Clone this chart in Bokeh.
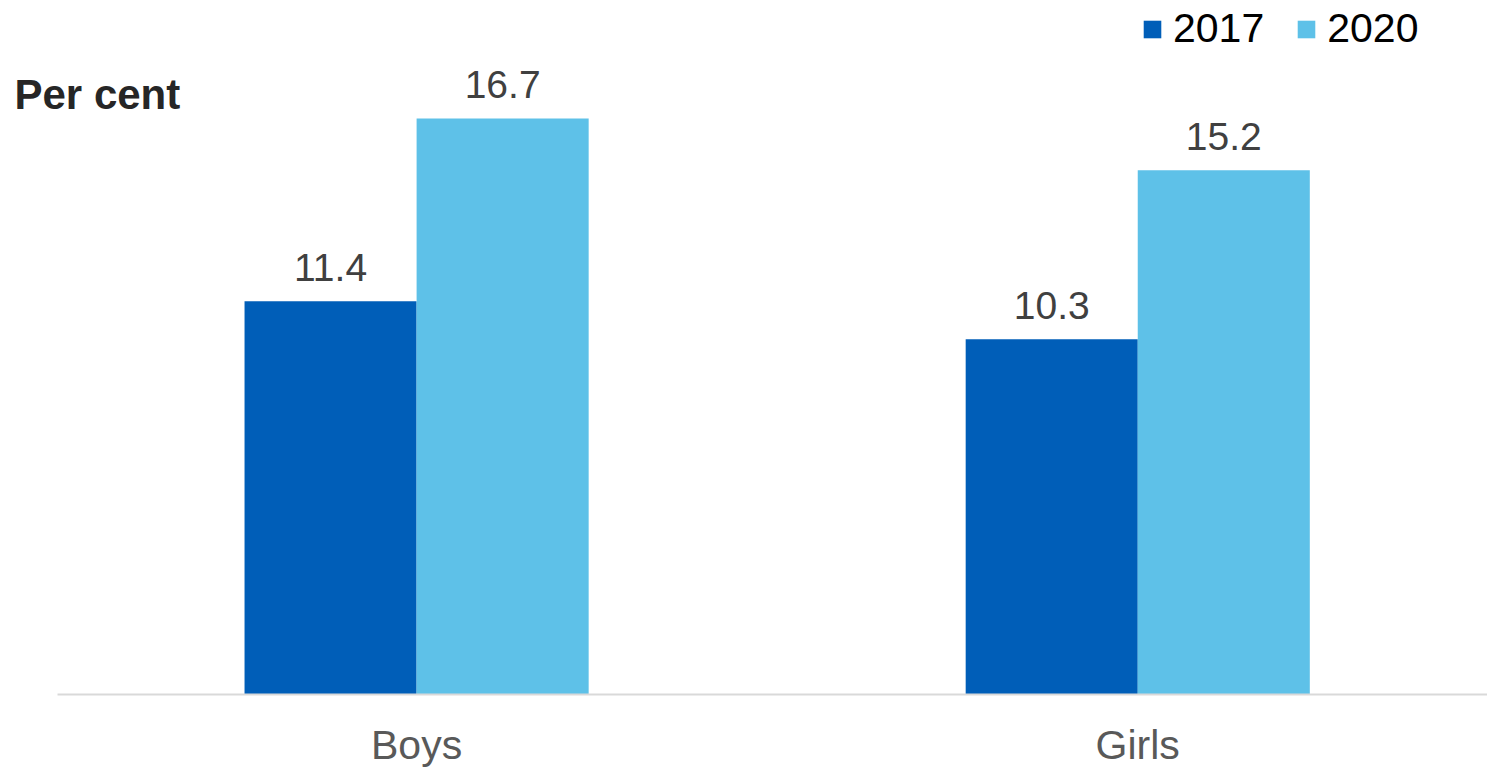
from bokeh.plotting import figure
from bokeh.models import (ColumnDataSource, Range1d, FixedTicker, Legend, LegendItem, Label)
from bokeh.transform import dodge
from bokeh.core.properties import value
from bokeh.embed import file_html
from bokeh.resources import INLINE

categories = ["Boys", "Girls"]
series_names = ["2017", "2020"]
values_2017 = [11.4, 10.3]
values_2020 = [16.7, 15.2]

colors = ["#005EB8", "#5EC1E8"]
FONT = "Liberation Sans"

xpos = list(range(len(categories)))
src = ColumnDataSource(dict(
    x=xpos,
    v2017=values_2017,
    v2020=values_2020,
    l2017=[f"{v:.1f}" for v in values_2017],
    l2020=[f"{v:.1f}" for v in values_2020],
))

PX = 34.49  # pixels per percent
p = figure(width=1487, height=768, output_backend="svg", toolbar_location=None,
           x_range=Range1d(-0.577, 1.485), y_range=Range1d(-74 / PX, 694 / PX),
           min_border=0)
p.outline_line_color = None
p.xgrid.visible = False
p.ygrid.visible = False
p.yaxis.visible = False
p.background_fill_color = "white"
p.border_fill_color = "white"

bw = 0.2386
r1 = p.vbar(x=dodge("x", -bw / 2, range=p.x_range), top="v2017", width=bw, source=src,
            fill_color=colors[0], line_color=None)
r2 = p.vbar(x=dodge("x", bw / 2, range=p.x_range), top="v2020", width=bw, source=src,
            fill_color=colors[1], line_color=None)

for key, off in (("l2017", -bw / 2), ("l2020", bw / 2)):
    p.text(x=dodge("x", off, range=p.x_range), y="v" + key[1:], text=key, source=src,
           text_align="center", text_baseline="alphabetic", y_offset=-34,
           text_font_size="39px", text_color="#404040", text_font=value(FONT))

ax = p.xaxis[0]
ax.fixed_location = 0
ax.bounds = (-0.498, 2.0)
ax.ticker = FixedTicker(ticks=xpos)
ax.major_label_overrides = {i: c for i, c in zip(xpos, categories)}
ax.axis_line_color = "#D9D9D9"
ax.axis_line_width = 2
ax.major_tick_line_color = None
ax.minor_tick_line_color = None
ax.major_tick_out = 0
ax.major_tick_in = 0
ax.major_label_text_font = FONT
ax.major_label_text_font_size = "41px"
ax.major_label_text_color = "#595959"
ax.major_label_standoff = 27

legend = Legend(items=[LegendItem(label=series_names[0], renderers=[r1]),
                       LegendItem(label=series_names[1], renderers=[r2])],
                orientation="horizontal", location=(1141, 716),
                label_text_font=FONT, label_text_font_size="41px", label_text_color="#000000",
                glyph_width=22, glyph_height=22, label_standoff=10, spacing=31,
                padding=0, margin=0, background_fill_alpha=0, border_line_color=None,
                label_height=22)
p.add_layout(legend, "center")

p.add_layout(Label(x=14, y=768 - 107 + 13, x_units="screen", y_units="screen", text="Per cent",
                   text_font=FONT, text_font_size="42px", text_font_style="bold",
                   text_color="#262626", text_baseline="alphabetic"))

open("out.html", "w").write(file_html(p, INLINE))
